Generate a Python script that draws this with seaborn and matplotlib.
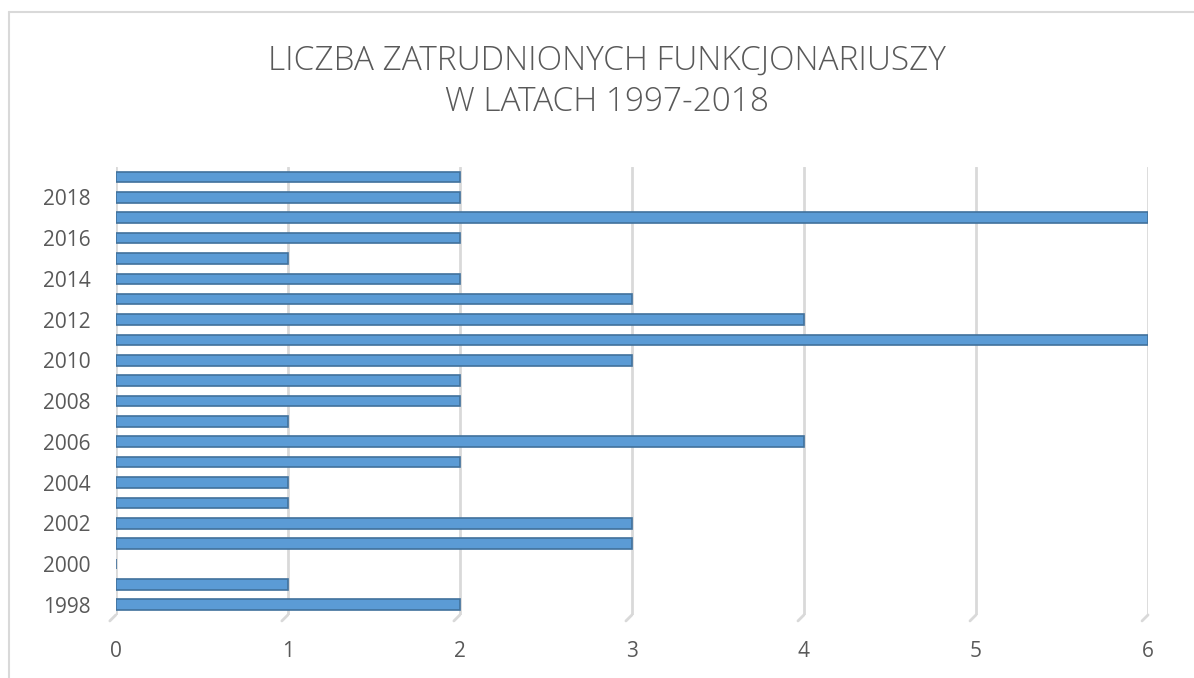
import matplotlib
matplotlib.use("Agg")
import matplotlib.pyplot as plt
import pandas as pd
import seaborn as sns
from matplotlib.lines import Line2D
from matplotlib.transforms import blended_transform_factory

# dane (od dołu: 1998 ... 2019)
years = list(range(1998, 2020))
values = [2, 1, 0, 3, 3, 1, 1, 2, 4, 1, 2, 2, 3, 6, 4, 3, 2, 1, 2, 6, 2, 2]
title = "LICZBA ZATRUDNIONYCH FUNKCJONARIUSZY\nW LATACH 1997-2018"

df = pd.DataFrame({"rok": [str(y) for y in years], "liczba": values})
order = [str(y) for y in reversed(years)]  # najnowszy rok na górze

sns.set_theme(style="white")
plt.rcParams["font.family"] = ["Open Sans", "DejaVu Sans"]

fig = plt.figure(figsize=(11.94, 6.78), dpi=100)
ax = fig.add_axes([0.097, 0.093, 0.8645, 0.661])

sns.barplot(data=df, y="rok", x="liczba", order=order, orient="h",
            color="#5B9BD5", edgecolor="#41719C", linewidth=1.2,
            width=0.52, saturation=1, ax=ax)

ax.set_xlim(0, 6)
ax.set_ylim(len(order) - 0.5, -0.5)
ax.set_xticks(range(0, 7))
ax.xaxis.grid(True, color="#D9D9D9", linewidth=2)
ax.set_axisbelow(True)
ax.set_xlabel("")
ax.set_ylabel("")
ax.set_yticks(range(len(order)))
ax.set_yticklabels([y if int(y) % 2 == 0 else "" for y in order])
ax.tick_params(axis="both", length=0, labelsize=15, colors="#595959")
ax.tick_params(axis="y", pad=18)
ax.tick_params(axis="x", pad=19)
for s in ax.spines.values():
    s.set_visible(False)

# małe ukośne kreski "podłogi" 3D pod liniami siatki
trans = blended_transform_factory(ax.transData, ax.transAxes)
for xv in ax.get_xticks():
    ax.annotate("", xy=(xv, 0), xycoords=trans, xytext=(-6, -6), textcoords="offset pixels",
                arrowprops=dict(arrowstyle="-", color="#D9D9D9", lw=2, shrinkA=0, shrinkB=0),
                annotation_clip=False)

fig.text(0.508, 0.88, title, ha="center", va="center", fontsize=24,
         color="#595959", linespacing=1.3, fontweight="light")

# ramka wykresu (widoczna tylko z lewej i u góry)
fig.add_artist(Line2D([0.0075, 0.0075], [0.0, 0.983], transform=fig.transFigure,
                      color="#D9D9D9", lw=1.5))
fig.add_artist(Line2D([0.0075, 1.0], [0.983, 0.983], transform=fig.transFigure,
                      color="#D9D9D9", lw=1.5))

fig.savefig("out.png", dpi=100)
